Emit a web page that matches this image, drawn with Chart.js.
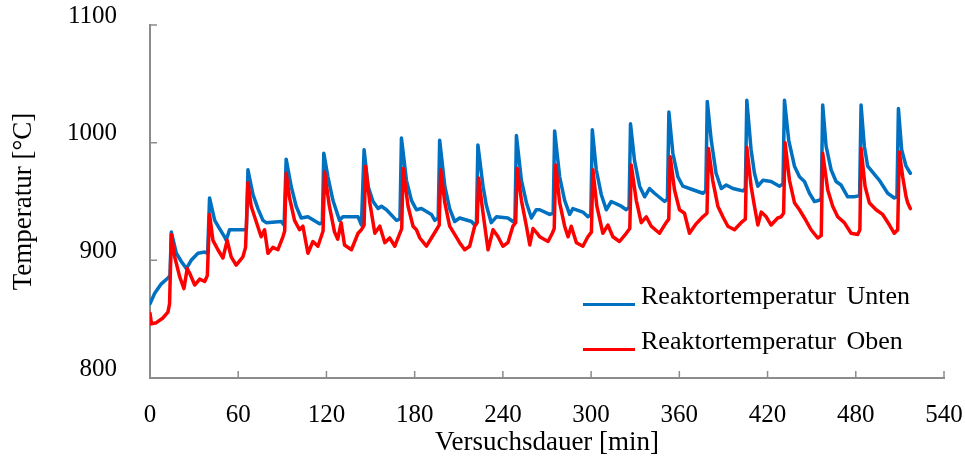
<!DOCTYPE html>
<html lang="de">

<head>
    <meta charset="UTF-8" />
    <title>Reaktortemperatur</title>
    <script src="https://cdn.jsdelivr.net/npm/chart.js"></script>
    <style>
        body { margin: 0; background: #fff; }
        .wrap { position: relative; width: 965px; height: 463px; }
        .leg-line { position: absolute; left: 583px; width: 52px; height: 3px; }
        .leg-text { position: absolute; left: 641px; font: 26px "Liberation Serif", serif; line-height: 26px;
            color: #000; word-spacing: 4px; white-space: nowrap; }
    </style>
</head>

<body>
    <div class="wrap">
        <canvas id="tempChart" width="965" height="463"></canvas>
        <div class="leg-line" style="top:303px; background:#0070C0"></div>
        <div class="leg-text" style="top:283px">Reaktortemperatur Unten</div>
        <div class="leg-line" style="top:348px; background:#FF0000"></div>
        <div class="leg-text" style="top:328px">Reaktortemperatur Oben</div>
    </div>

    <script>
        // Werte (Zeit in min, Temperatur in °C)
        const timeUnten = [0, 3.2, 7.7, 12.2, 13.6, 14.5, 17.9, 21.3, 24.7, 28, 32.6, 37.2, 39.2, 40.5, 44, 47.3, 50.7, 51.8, 54.1, 64.3, 65.6, 66.6, 70, 73.4, 76.8, 79, 89.2, 91.2, 92.6, 96, 99.4, 102.8, 107.4, 115.3, 117.2, 118.2, 121, 124.4, 128.9, 131.2, 137, 141.5, 143.8, 145.6, 148.3, 151.7, 155.1, 157.4, 160.8, 167.6, 170, 171, 174.4, 177.8, 181.2, 184.6, 191.4, 193.7, 196, 197, 200.5, 203.8, 207.2, 210.6, 218.6, 220.8, 222, 223, 226.5, 228.7, 232.1, 235.6, 243.4, 246.8, 248.2, 249.2, 252.6, 256, 259.4, 262.7, 265, 271.8, 274.2, 275.2, 278.6, 282, 285.4, 287.6, 294.4, 297.8, 299.8, 300.8, 303.5, 306.9, 310.3, 313.7, 320.5, 323.9, 325.8, 326.8, 329.5, 333, 336.4, 339.7, 343.1, 350, 351.9, 352.9, 355.6, 359, 362.4, 369.2, 376, 378, 379, 381.7, 385, 388.5, 391.9, 396.4, 400, 403.2, 404.9, 405.9, 408.8, 411.1, 413.4, 416.8, 422.4, 428.1, 430.5, 431.5, 434.4, 438.3, 441.7, 445.1, 448.5, 451.9, 455.3, 456.5, 457.5, 459.8, 463.2, 466.6, 470, 474.5, 479, 482.6, 483.6, 485.8, 488.1, 492.7, 496.1, 501.7, 506.2, 508, 509, 511.2, 514.2, 517.1];
        const tempUnten = [863, 872, 880, 885, 887, 924, 906, 899, 893, 900, 906, 907, 906, 953, 934, 927, 920, 917, 926, 926, 927, 977, 956, 944, 934, 932, 933, 930, 986, 963, 946, 936, 937, 931, 932, 991, 971, 951, 934, 937, 937, 937, 930, 994, 963, 950, 944, 946, 943, 934, 935, 1004, 968, 951, 943, 944, 939, 934, 936, 1002, 963, 944, 933, 936, 933, 930, 932, 998, 963, 947, 932, 937, 936, 933, 935, 1006, 968, 949, 936, 943, 943, 939, 940, 1010, 971, 951, 939, 944, 941, 937, 939, 1011, 977, 956, 943, 950, 946, 943, 945, 1016, 985, 963, 954, 961, 957, 950, 952, 1026, 991, 971, 963, 960, 957, 959, 1035, 1002, 974, 961, 964, 961, 960, 959, 961, 1036, 994, 974, 963, 968, 967, 963, 965, 1036, 1002, 980, 971, 967, 957, 950, 951, 953, 1032, 997, 977, 967, 964, 954, 954, 955, 1032, 997, 980, 973, 968, 957, 953, 954, 1029, 994, 980, 974];

        const timeOben = [0, 1, 4.3, 8.8, 12.2, 13.3, 14.5, 16.8, 20.2, 23.1, 25.3, 27, 30.4, 33.8, 37.2, 39, 40.5, 42.8, 46.2, 49.6, 52.5, 55.2, 58.6, 63.2, 65, 66.6, 68.8, 72.2, 75.6, 77.9, 80.2, 83.6, 87, 90.4, 91.6, 92.6, 94.9, 98.3, 101.7, 104, 107.4, 110.8, 114.2, 116.4, 117.7, 118.7, 122, 125.5, 127.7, 130, 132.3, 137, 141.5, 143.8, 145.6, 146.6, 149.5, 152.9, 156.3, 159.7, 163, 166.5, 169.9, 171.2, 172.1, 175.5, 178.9, 181.2, 183.5, 188, 191.4, 194.8, 196.7, 197.7, 200.5, 203.8, 207.2, 210.6, 214, 217.4, 220.8, 222.5, 223.5, 226.5, 229.9, 233.3, 236.7, 240, 243.4, 246.8, 248.7, 249.7, 252.6, 256, 258.3, 260.5, 263.9, 265, 270.7, 273.6, 274.9, 275.9, 278.6, 282, 284.3, 286.5, 290, 294.4, 297.8, 300.2, 301.2, 303.9, 308, 311.4, 314.8, 319.3, 323.9, 326.3, 327.3, 330.7, 334.1, 337.5, 340.9, 346.5, 351, 352.8, 353.8, 356.7, 360.1, 363.5, 366.9, 371.4, 376, 378.8, 379.8, 382.7, 386.2, 389.6, 393, 397.5, 402, 404.9, 405.9, 408.8, 411.1, 413.4, 415.7, 419.1, 422.4, 426.9, 429.2, 430.9, 431.9, 434.9, 438.3, 441.7, 445.1, 449.6, 454.1, 456.5, 457.5, 460.9, 464.3, 467.7, 472.2, 476.8, 481.3, 482.8, 483.6, 486.3, 489.2, 493.8, 498.3, 502.9, 506.2, 508.5, 509.6, 511.9, 514.2, 515.3, 517.1];
        const tempOben = [855, 846, 847, 851, 856, 863, 922, 903, 886, 876, 893, 889, 879, 884, 882, 887, 939, 917, 909, 902, 917, 903, 896, 903, 911, 966, 946, 933, 920, 926, 906, 911, 909, 920, 925, 974, 953, 934, 926, 929, 906, 916, 912, 920, 925, 975, 946, 924, 918, 932, 913, 909, 923, 926, 930, 980, 949, 923, 929, 915, 919, 912, 923, 927, 978, 946, 929, 926, 919, 912, 919, 926, 930, 977, 949, 929, 922, 915, 909, 912, 929, 932, 970, 940, 909, 926, 920, 912, 915, 929, 932, 978, 951, 929, 913, 927, 922, 920, 916, 923, 927, 981, 949, 929, 920, 929, 915, 912, 920, 924, 977, 946, 923, 930, 920, 916, 923, 927, 981, 951, 932, 937, 929, 923, 932, 935, 988, 960, 943, 940, 923, 931, 937, 940, 995, 968, 946, 937, 929, 926, 932, 935, 996, 963, 946, 930, 941, 937, 930, 936, 937, 940, 1000, 968, 949, 943, 936, 926, 919, 921, 991, 960, 946, 937, 932, 923, 922, 926, 995, 963, 949, 943, 939, 930, 923, 926, 992, 971, 954, 949, 944];

        const xTicks = [0, 540, 60];      // min, max, Schritt
        const yTicks = [800, 1100, 100];

        function toPoints(xs, ys) {
            return xs.map((x, i) => ({ x: x, y: ys[i] }));
        }

        const axisColor = '#8c8c8c';
        const fontFamily = '"Liberation Serif", serif';

        // kurze Teilstriche nach innen, wie im Original
        const innerTicks = {
            id: 'innerTicks',
            afterDraw(chart) {
                const ctx = chart.ctx;
                const xs = chart.scales.x, ys = chart.scales.y;
                const a = chart.chartArea;
                ctx.save();
                ctx.strokeStyle = axisColor;
                ctx.lineWidth = 1.5;
                ctx.beginPath();
                xs.ticks.forEach(t => {
                    const px = xs.getPixelForValue(t.value);
                    ctx.moveTo(px, a.bottom);
                    ctx.lineTo(px, a.bottom - 7);
                });
                ys.ticks.forEach(t => {
                    const py = ys.getPixelForValue(t.value);
                    ctx.moveTo(a.left, py);
                    ctx.lineTo(a.left + 7, py);
                });
                ctx.stroke();
                ctx.restore();
            }
        };

        const tempChart = new Chart(document.getElementById('tempChart'), {
            type: 'line',
            data: {
                datasets: [
                    {
                        label: 'Reaktortemperatur Oben',
                        data: toPoints(timeOben, tempOben),
                        borderColor: '#FF0000',
                        borderWidth: 3.5,
                        order: 1
                    },
                    {
                        label: 'Reaktortemperatur Unten',
                        data: toPoints(timeUnten, tempUnten),
                        borderColor: '#0070C0',
                        borderWidth: 3.5,
                        order: 2
                    }
                ]
            },
            options: {
                responsive: false,
                animation: false,
                layout: { padding: { left: 0, right: 21, top: 25, bottom: 0 } },
                elements: {
                    point: { radius: 0 },
                    line: { tension: 0, borderJoinStyle: 'round', borderCapStyle: 'round' }
                },
                plugins: {
                    legend: { display: false },
                    tooltip: { enabled: false }
                },
                scales: {
                    x: {
                        type: 'linear',
                        min: xTicks[0],
                        max: xTicks[1],
                        ticks: { stepSize: xTicks[2], padding: 22, color: '#000', font: { family: fontFamily, size: 25 },
                            callback: v => String(v) },
                        grid: { drawOnChartArea: false, drawTicks: false },
                        border: { color: axisColor, width: 2 },
                        title: { display: true, text: 'Versuchsdauer [min]', color: '#000', padding: { top: 0, bottom: 4 },
                            font: { family: fontFamily, size: 27 } },
                        afterFit(scale) {
                            scale.height = 85;
                            scale.paddingLeft = 0;
                            scale.paddingRight = 0;
                        }
                    },
                    y: {
                        min: yTicks[0],
                        max: yTicks[1],
                        ticks: { stepSize: yTicks[2], padding: 33, labelOffset: -9, color: '#000',
                            font: { family: fontFamily, size: 25 }, callback: v => String(v) },
                        grid: { drawOnChartArea: false, drawTicks: false },
                        border: { color: axisColor, width: 2 },
                        title: { display: true, text: 'Temperatur [°C]', color: '#000', padding: { top: 8, bottom: 0 },
                            font: { family: fontFamily, size: 27 } },
                        afterFit(scale) {
                            scale.width = 150;
                            scale.paddingTop = 0;
                            scale.paddingBottom = 0;
                        }
                    }
                }
            },
            plugins: [innerTicks]
        });
    </script>
</body>

</html>
